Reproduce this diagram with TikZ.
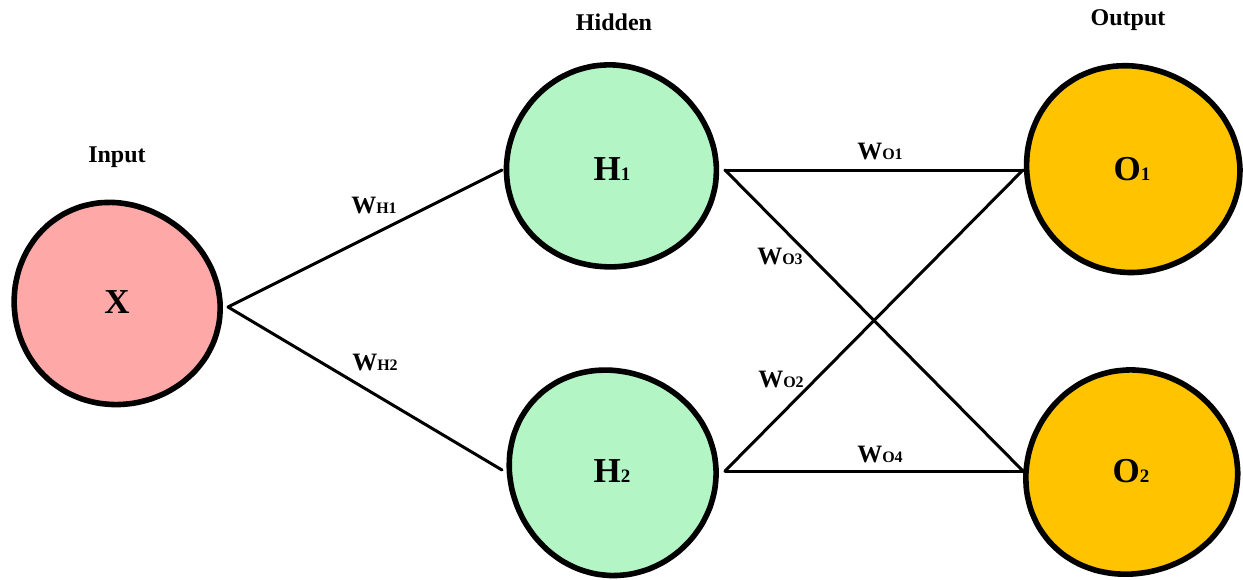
\documentclass[tikz,border=0pt]{standalone}
\usepackage{fontspec}
\setmainfont{Liberation Serif}
\definecolor{inred}{HTML}{FFA8A8}
\definecolor{hidgreen}{HTML}{B3F5C4}
\definecolor{outyellow}{HTML}{FFC300}
\newcommand\myblob[6]{% center, fill, R, phase2, phase3, amp
  \draw[line width=5.6pt, fill=#2] plot[smooth cycle, domain=0:350, samples=36, variable=\t]
    ([shift={(#1)}]\t:{#3+#6*sin(2*\t+#4)+0.6*#6*sin(3*\t+#5)});
}
\tikzset{
  neuron/.style={circle, minimum size=200pt, inner sep=0pt, font=\bfseries\fontsize{35}{37}\selectfont},
  title/.style={font=\bfseries\fontsize{24}{26}\selectfont},
  wlab/.style={font=\bfseries\fontsize{25}{27}\selectfont, inner sep=0pt},
  edge/.style={line width=3pt, line cap=round, line join=round}
}
\newcommand\sub[1]{{\fontsize{16}{16}\selectfont #1}}
\newcommand\nsub[1]{{\fontsize{19}{19}\selectfont #1}}
\begin{document}
\begin{tikzpicture}[x=1pt,y=-1pt]
\useasboundingbox (0,0) rectangle (1243,579);
% blobs
\myblob{116,304}{inred}{102}{30}{70}{2}
\myblob{611,167}{hidgreen}{103}{80}{20}{2}
\myblob{612,472}{hidgreen}{103}{10}{140}{2}
\myblob{1132,169}{outyellow}{105}{50}{100}{2.2}
\myblob{1131,473}{outyellow}{104}{120}{40}{2.2}
% nodes
\node[neuron] (X) at (117,302) {X};
\node[neuron] (H1) at (612,169) {H\nsub{1}};
\node[neuron] (H2) at (612,471) {H\nsub{2}};
\node[neuron] (O1) at (1132,169) {O\nsub{1}};
\node[neuron] (O2) at (1131,471) {O\nsub{2}};
% titles
\node[title] (tin) at (117,157) {Input};
\node[title] (thid) at (614,22) {Hidden};
\node[title] (tout) at (1128,20) {Output};
% connector ends
\coordinate (xo) at (228,307);
\coordinate (h1i) at (502,170);
\coordinate (h2i) at (502,470);
\coordinate (h1o) at (725,170);
\coordinate (h2o) at (725,471);
\coordinate (o1i) at (1023,170);
\coordinate (o2i) at (1023,471);
\draw[edge] (h1i) -- (xo) -- (h2i);
\draw[edge] (h1o) -- (o1i);
\draw[edge] (h1o) -- (o2i);
\draw[edge] (h2o) -- (o1i);
\draw[edge] (h2o) -- (o2i);
% weight labels
\node[wlab] (wh1) at (374,205) {W\sub{H1}};
\node[wlab] (wh2) at (375,362) {W\sub{H2}};
\node[wlab] (wo1) at (880,151) {W\sub{O1}};
\node[wlab] (wo3) at (780,256) {W\sub{O3}};
\node[wlab] (wo2) at (781,379) {W\sub{O2}};
\node[wlab] (wo4) at (880,454) {W\sub{O4}};
\end{tikzpicture}
\end{document}
